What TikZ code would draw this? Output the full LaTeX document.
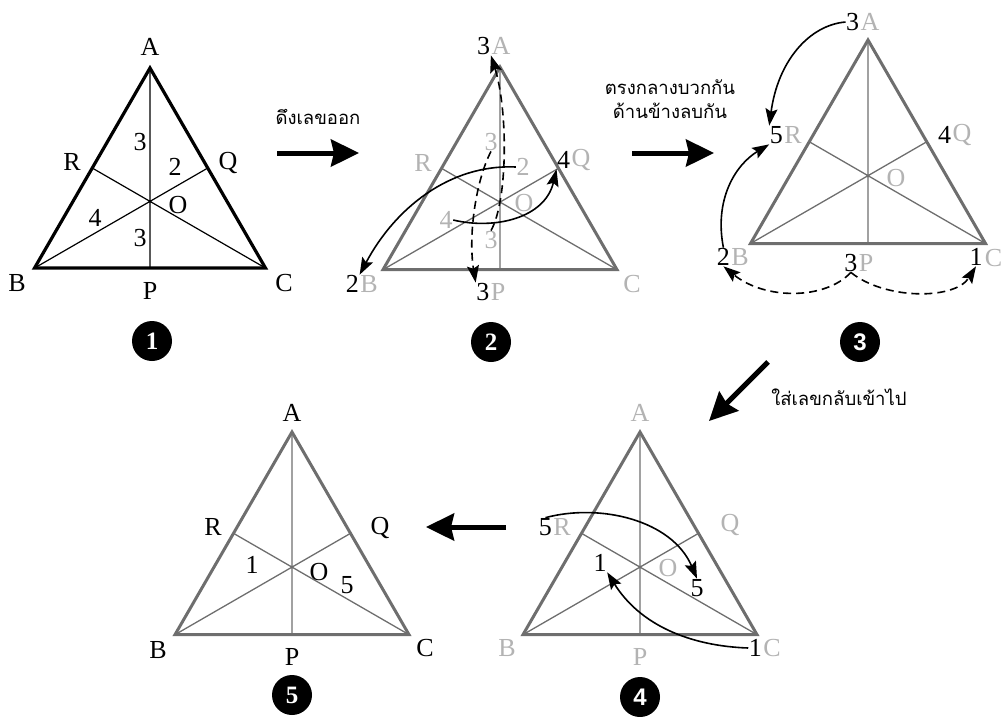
\documentclass[tikz,border=0pt]{standalone}
\usepackage{fontspec}
\setmainfont{Liberation Serif}
\newfontfamily\thaifont[Script=Thai]{Loma}
\newfontfamily\circsans{Liberation Sans}
\usetikzlibrary{arrows.meta,calc}
\definecolor{tgray}{HTML}{6E6E6E}
\definecolor{lgray}{HTML}{B3B3B3}
\tikzset{
  triblack/.style={draw=black,line width=3.2pt,line join=miter},
  trigray/.style={draw=tgray,line width=3pt,line join=miter},
  medblack/.style={draw=black,line width=1.2pt},
  medgray/.style={draw=tgray,line width=1.3pt},
  lbl/.style={font=\fontsize{26}{26}\selectfont,inner sep=0.5pt,text=black},
  glbl/.style={lbl,text=lgray},
  thai/.style={font=\thaifont\fontsize{18.5}{24}\selectfont,align=center,inner sep=0pt},
  bigarrow/.style={line width=5pt,-{Stealth[length=28pt,width=27pt,inset=3pt]}},
  carrow/.style={line width=1.6pt,-{Stealth[length=17pt,width=12pt,inset=3pt]}},
  darrow/.style={carrow,dash pattern=on 8pt off 5pt},
  circ/.style={circle,fill=black,minimum size=40pt,inner sep=0pt,text=white},
}
\newcommand\mktri[5]{% prefix, ax, ay, side, style suffix
  \coordinate (#1A) at (#2,#3);
  \coordinate (#1B) at ($(#1A)+({-#4/2},{#4*0.866})$);
  \coordinate (#1C) at ($(#1A)+({#4/2},{#4*0.866})$);
  \coordinate (#1P) at ($(#1B)!0.5!(#1C)$);
  \coordinate (#1Q) at ($(#1A)!0.5!(#1C)$);
  \coordinate (#1R) at ($(#1A)!0.5!(#1B)$);
  \draw[med#5] (#1A)--(#1P) (#1B)--(#1Q) (#1C)--(#1R);
  \draw[tri#5] (#1A)--(#1B)--(#1C)--cycle;
}
\begin{document}
\begin{tikzpicture}[x=1pt,y=-1pt]
\useasboundingbox (0,0) rectangle (1003,716);
% ---------- panel 1
\mktri{a}{150}{68}{231}{black}
\node[lbl] (aLA) at (150,47) {A};
\node[lbl] (aLB) at (17,283) {B};
\node[lbl] (aLC) at (284,283) {C};
\node[lbl] (aLP) at (150,291) {P};
\node[lbl] (aLR) at (72,162) {R};
\node[lbl] (aLQ) at (228,163) {Q};
\node[lbl] (aLO) at (178,205) {O};
\node[lbl] (an3a) at (140,142) {3};
\node[lbl] (an2) at (175,167) {2};
\node[lbl] (an4) at (95,218) {4};
\node[lbl] (an3b) at (140,238) {3};
\node[circ,font=\bfseries\fontsize{25}{25}\selectfont] (c1) at (152,341) {1};
% arrow 1
\coordinate (r1s) at (277,153);
\coordinate (r1e) at (359,153);
\draw[bigarrow] (r1s) -- (r1e);
\node[thai] (t1) at (318,117) {ดึงเลขออก};
% ---------- panel 2
\mktri{b}{500}{67}{234}{gray}
\node[glbl] (bLA) at (501,46) {A};
\node[lbl,anchor=east] (bn3A) at (bLA.west) {3};
\node[glbl] (bLB) at (369,284) {B};
\node[lbl,anchor=east] (bn2B) at (bLB.west) {2};
\node[glbl] (bLP) at (498,292) {P};
\node[lbl,anchor=east] (bn3P) at (bLP.west) {3};
\node[glbl] (bLC) at (632,284) {C};
\node[glbl] (bLR) at (423,163) {R};
\node[glbl] (bLQ) at (581,160) {Q};
\node[lbl,anchor=east] (bn4Q) at (bLQ.west) {4};
\node[glbl] (bLO) at (524,203) {O};
\node[glbl] (bg3a) at (491,142) {3};
\node[glbl] (bg2) at (523,167) {2};
\node[glbl] (bg4) at (446,220) {4};
\node[glbl] (bg3b) at (491,240) {3};
\draw[darrow] (bg3a.south) .. controls (476,180) and (468,235) .. (bn3P.north west);
\draw[darrow] (bg3b.north) .. controls (508,200) and (508,110) .. (bn3A.south east);
\draw[carrow] (bg2.west) .. controls (450,164) and (395,208) .. (bn2B.north east);
\draw[carrow] (bg4.east) .. controls (495,230) and (545,218) .. (bn4Q.south west);
\node[circ,font=\bfseries\fontsize{25}{25}\selectfont] (c2) at (491,342) {2};
% arrow 2
\coordinate (r2s) at (632,153);
\coordinate (r2e) at (714,153);
\draw[bigarrow] (r2s) -- (r2e);
\node[thai] (t2) at (670,99) {ตรงกลางบวกกัน\\ด้านข้างลบกัน};
% ---------- panel 3
\mktri{c}{868}{40}{235}{gray}
\node[glbl] (cLA) at (870,22) {A};
\node[lbl,anchor=east] (cn3A) at (cLA.west) {3};
\node[glbl] (cLR) at (793,135) {R};
\node[lbl,anchor=east] (cn5R) at (cLR.west) {5};
\node[glbl] (cLQ) at (962,135) {Q};
\node[lbl,anchor=east] (cn4Q) at (cLQ.west) {4};
\node[glbl] (cLO) at (896,178) {O};
\node[glbl] (cLB) at (740,257) {B};
\node[lbl,anchor=east] (cn2B) at (cLB.west) {2};
\node[glbl] (cLP) at (866,263) {P};
\node[lbl,anchor=east] (cn3P) at (cLP.west) {3};
\node[glbl,anchor=east] (cLC) at (1003,258) {C};
\node[lbl] (cn1C) at (976,257) {1};
\draw[carrow] (cn3A.west) .. controls (810,25) and (778,60) .. (cn5R.north west);
\draw[carrow] (cn2B.north) .. controls (714,200) and (735,165) .. (cn5R.south west);
\draw[darrow] (cn3P.south) .. controls (825,300) and (765,300) .. (cn2B.south);
\draw[darrow] (cn3P.south) .. controls (885,300) and (955,300) .. (cn1C.south);
\node[circ,font=\circsans\bfseries\fontsize{24}{24}\selectfont] (c3) at (860,342) {3};
% arrow 3
\coordinate (r3s) at (768,362);
\coordinate (r3e) at (709,421);
\draw[bigarrow] (r3s) -- (r3e);
\node[thai] (t3) at (839,397) {ใส่เลขกลับเข้าไป};
% ---------- panel 4
\mktri{d}{640}{432}{234}{gray}
\node[glbl] (dLA) at (640,413) {A};
\node[glbl] (dLR) at (562,527) {R};
\node[lbl,anchor=east] (dn5R) at (dLR.west) {5};
\node[glbl] (dLQ) at (730,525) {Q};
\node[glbl] (dLO) at (668,568) {O};
\node[glbl] (dLB) at (507,648) {B};
\node[glbl] (dLP) at (640,657) {P};
\node[glbl] (dLC) at (772,648) {C};
\node[lbl,anchor=east] (dn1C) at (dLC.west) {1};
\node[lbl] (dn1) at (600,563) {1};
\node[lbl] (dn5) at (697,588) {5};
\draw[carrow] (dn5R.north) .. controls (600,503) and (672,520) .. (dn5.north);
\draw[carrow] (dn1C.west) .. controls (690,646) and (640,625) .. (dn1.south east);
\node[circ,font=\circsans\bfseries\fontsize{24}{24}\selectfont] (c4) at (640,697) {4};
% arrow 4
\coordinate (r4s) at (506,527);
\coordinate (r4e) at (426,527);
\draw[bigarrow] (r4s) -- (r4e);
% ---------- panel 5
\mktri{e}{292}{432}{234}{gray}
\node[lbl] (eLA) at (292,413) {A};
\node[lbl] (eLR) at (213,527) {R};
\node[lbl] (eLQ) at (380,528) {Q};
\node[lbl] (eLO) at (319,572) {O};
\node[lbl] (en1) at (252,565) {1};
\node[lbl] (en5) at (347,585) {5};
\node[lbl] (eLB) at (158,650) {B};
\node[lbl] (eLP) at (292,657) {P};
\node[lbl] (eLC) at (425,648) {C};
\node[circ,font=\bfseries\fontsize{25}{25}\selectfont] (c5) at (292,695) {5};
\end{tikzpicture}
\end{document}
